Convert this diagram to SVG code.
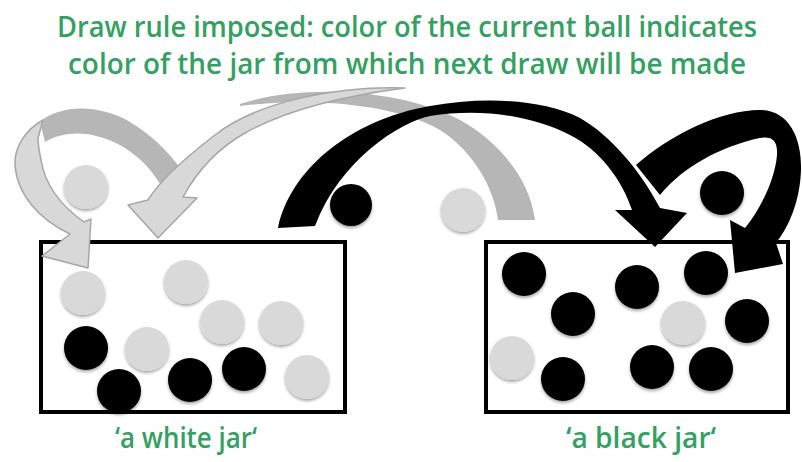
<svg xmlns="http://www.w3.org/2000/svg" width="802" height="462" viewBox="0 0 802 462">
<defs>
<filter id="sh" x="-30%" y="-30%" width="160%" height="170%">
<feDropShadow dx="0" dy="2" stdDeviation="1.6" flood-color="#000" flood-opacity="0.35"/>
</filter>
</defs>
<style>
.t{font-family:"Open Sans","Noto Sans","Liberation Sans",sans-serif;font-weight:600;fill:#34a062;text-anchor:middle}
.jar{fill:#fff;stroke:#000;stroke-width:4}
.w{fill:#d9d9d9;filter:url(#sh)}
.b{fill:#000;filter:url(#sh)}
.gback{fill:#b6b6b6}
.gfront{fill:#d8d8d8;stroke:#a6a6a6;stroke-width:1.5;stroke-linejoin:round}
.k{fill:#000}
</style>
<rect width="802" height="462" fill="#fff"/>
<g id="title">
<text class="t" x="407" y="37" font-size="29" textLength="700" lengthAdjust="spacingAndGlyphs">Draw rule imposed: color of the current ball indicates</text>
<text class="t" x="407" y="74" font-size="29" textLength="678" lengthAdjust="spacingAndGlyphs">color of the jar from which next draw will be made</text>
</g>
<g id="white-jar">
<rect class="jar" x="41" y="242" width="304" height="170"/>
<circle class="w" cx="83" cy="293" r="22"/>
<circle class="w" cx="186" cy="282" r="22"/>
<circle class="w" cx="222" cy="322" r="22"/>
<circle class="w" cx="281" cy="323" r="22"/>
<circle class="w" cx="147" cy="349" r="22"/>
<circle class="w" cx="307" cy="377" r="22"/>
<circle class="b" cx="86" cy="348" r="22"/>
<circle class="b" cx="119" cy="391" r="22"/>
<circle class="b" cx="190" cy="380" r="22"/>
<circle class="b" cx="244" cy="369" r="22"/>
<text class="t" x="186" y="448" font-size="28" textLength="142" lengthAdjust="spacingAndGlyphs">‘a white jar‘</text>
</g>
<g id="black-jar">
<rect class="jar" x="486" y="242" width="302" height="170"/>
<circle class="b" cx="524" cy="274" r="22"/>
<circle class="b" cx="573" cy="314" r="22"/>
<circle class="b" cx="637" cy="287" r="22"/>
<circle class="b" cx="706" cy="273" r="22"/>
<circle class="w" cx="683" cy="323" r="22"/>
<circle class="b" cx="747" cy="321" r="22"/>
<circle class="w" cx="512" cy="358" r="22"/>
<circle class="b" cx="563" cy="379" r="22"/>
<circle class="b" cx="652" cy="367" r="22"/>
<circle class="b" cx="711" cy="369" r="22"/>
<text class="t" x="641" y="448" font-size="28" textLength="150" lengthAdjust="spacingAndGlyphs">‘a black jar‘</text>
</g>
<g id="drawn-balls">
<circle class="w" cx="86" cy="187" r="22"/>
<circle class="b" cx="351" cy="205" r="21"/>
<circle class="w" cx="463" cy="210" r="22"/>
<circle class="b" cx="722" cy="193" r="22"/>
</g>
<g id="connectors">
<g id="white-to-white">
<path class="gback" d="M40,122 C60,104 100,104 130,122 C150,134 167,150 180,168 L165,192 C150,165 130,146 100,137 C80,131 60,133 45,142 Z"/>
<path class="gfront" d="M43,120 C25,130 14,148 15,165 C17,195 40,220 70,234 L42,256 L88,268 L91,219 L84,222 C60,205 45,185 41,160 C39,150 38,143 38,138 Z"/>
</g>
<g id="white-to-black-source">
<path class="gback" d="M240,104 C300,84 400,88 460,120 C500,142 530,180 535,220 L498,220 C494,188 474,152 440,130 C400,106 320,96 240,106 Z"/>
<path class="gfront" d="M405,88 C340,86 260,100 215,135 C185,158 160,180 148,200 L128,205 L158,238 L197,198 L183,197 C195,175 215,150 245,133 C290,108 350,95 405,88 Z"/>
</g>
<g id="black-to-black">
<path class="k" d="M278,228 C290,170 350,120 430,106 C480,97 540,98 580,118 C610,135 640,170 660,208 L687,213 L655,247 L615,210 L632,210 C622,180 600,150 570,135 C530,115 480,108 430,116 C400,122 340,160 315,226 Z"/>
</g>
<g id="black-self">
<path class="k" d="M636,165 C670,135 720,110 760,110 C790,110 802,140 801,170 C800,200 790,225 776,243 L783,264 L735,273 L730,220 L745,228 C760,210 775,180 777,155 C778,138 770,135 755,139 C720,148 685,165 660,195 Z"/>
</g>
</g>
</svg>
